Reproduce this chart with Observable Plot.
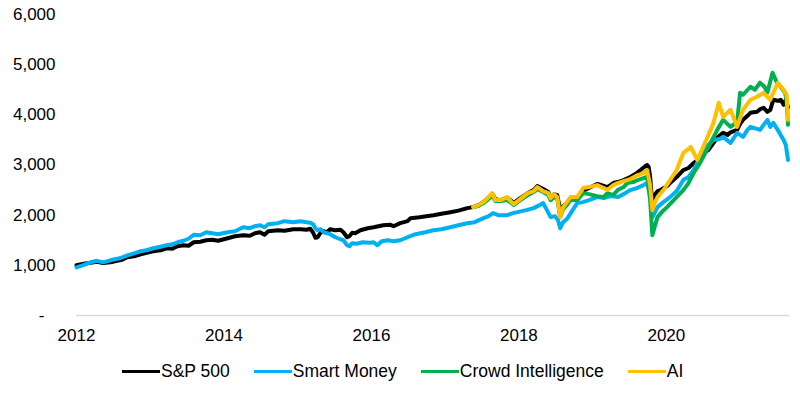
<!DOCTYPE html>
<html><head><meta charset="utf-8">
<script src="https://cdn.jsdelivr.net/npm/d3@7"></script>
<script src="https://cdn.jsdelivr.net/npm/@observablehq/plot@0.6"></script>
<style>
body{margin:0;background:#fff;font-family:"Liberation Sans",Arial,sans-serif;}
#legend{display:flex;gap:24px;padding-left:122px;margin-top:16px;font-size:17.5px;color:#000;align-items:center;height:20px;line-height:20px}
.item{display:flex;align-items:center}
.sw{width:38px;height:3px;margin-right:1px}
</style></head><body><div id="chart"></div><div id="legend"></div>
<script>
const seriesNames = ["S&P 500", "Smart Money", "Crowd Intelligence", "AI"];
const seriesColors = ["#000000", "#00B0F0", "#00B050", "#FFC000"];
const xTicks = [2012, 2014, 2016, 2018, 2020];
const yTicks = [1000, 2000, 3000, 4000, 5000, 6000];

const spYears = [2012.00,2012.10,2012.19,2012.28,2012.36,2012.46,2012.55,2012.62,2012.69,2012.78,2012.87,2012.95,2013.04,2013.14,2013.22,2013.30,2013.37,2013.45,2013.52,2013.59,2013.68,2013.76,2013.84,2013.92,2014.05,2014.15,2014.26,2014.35,2014.42,2014.49,2014.55,2014.60,2014.73,2014.82,2014.94,2015.04,2015.12,2015.17,2015.21,2015.24,2015.27,2015.31,2015.35,2015.40,2015.44,2015.51,2015.58,2015.62,2015.67,2015.70,2015.74,2015.78,2015.85,2015.95,2016.03,2016.16,2016.25,2016.30,2016.39,2016.49,2016.53,2016.65,2016.84,2016.95,2017.07,2017.18,2017.30,2017.38,2017.45,2017.52,2017.60,2017.64,2017.68,2017.75,2017.84,2017.90,2017.93,2018.00,2018.12,2018.20,2018.25,2018.33,2018.40,2018.43,2018.48,2018.52,2018.56,2018.60,2018.66,2018.70,2018.79,2018.87,2018.95,2019.06,2019.12,2019.20,2019.28,2019.34,2019.42,2019.51,2019.58,2019.65,2019.70,2019.74,2019.76,2019.78,2019.80,2019.82,2019.85,2019.88,2019.92,2020.01,2020.05,2020.14,2020.23,2020.30,2020.37,2020.44,2020.50,2020.57,2020.64,2020.70,2020.77,2020.83,2020.87,2020.96,2021.00,2021.04,2021.10,2021.14,2021.23,2021.28,2021.32,2021.37,2021.41,2021.45,2021.51,2021.55,2021.59,2021.62,2021.65];
const spValues = [1000,1030,1050,1070,1045,1060,1090,1110,1160,1180,1220,1250,1280,1300,1340,1330,1380,1400,1390,1460,1470,1500,1510,1490,1540,1580,1600,1590,1640,1660,1610,1680,1700,1690,1720,1720,1710,1730,1650,1550,1560,1650,1680,1660,1720,1700,1710,1660,1560,1580,1650,1640,1700,1740,1760,1800,1810,1780,1840,1880,1940,1960,2000,2030,2060,2090,2140,2160,2200,2260,2360,2420,2320,2300,2350,2280,2240,2320,2440,2500,2580,2520,2460,2340,2420,2400,2100,2180,2260,2330,2340,2480,2540,2620,2600,2560,2640,2660,2700,2760,2820,2900,2960,3000,2960,2760,2400,2300,2420,2480,2500,2580,2640,2760,2900,2940,3040,3120,3240,3300,3440,3560,3640,3600,3650,3700,3820,3900,3980,4040,4060,4120,4140,4060,4100,4300,4280,4300,4200,4300,4150];

const smYears = [2012.00,2012.10,2012.19,2012.28,2012.36,2012.46,2012.55,2012.62,2012.69,2012.78,2012.87,2012.95,2013.04,2013.14,2013.22,2013.30,2013.37,2013.45,2013.52,2013.59,2013.68,2013.76,2013.84,2013.92,2014.05,2014.15,2014.26,2014.35,2014.42,2014.49,2014.55,2014.60,2014.73,2014.82,2014.94,2015.04,2015.12,2015.17,2015.21,2015.24,2015.27,2015.31,2015.35,2015.40,2015.44,2015.51,2015.58,2015.62,2015.67,2015.70,2015.74,2015.80,2015.88,2015.98,2016.03,2016.08,2016.14,2016.22,2016.30,2016.39,2016.49,2016.60,2016.73,2016.84,2016.95,2017.07,2017.18,2017.30,2017.40,2017.52,2017.59,2017.65,2017.72,2017.84,2017.92,2017.98,2018.10,2018.20,2018.28,2018.33,2018.38,2018.43,2018.49,2018.53,2018.56,2018.60,2018.66,2018.72,2018.79,2018.87,2018.95,2019.06,2019.15,2019.25,2019.34,2019.42,2019.51,2019.60,2019.69,2019.74,2019.78,2019.81,2019.84,2019.88,2019.96,2020.05,2020.14,2020.23,2020.30,2020.37,2020.44,2020.50,2020.57,2020.64,2020.72,2020.77,2020.87,2020.96,2021.04,2021.10,2021.14,2021.23,2021.27,2021.32,2021.37,2021.41,2021.45,2021.51,2021.55,2021.59,2021.62,2021.65];
const smValues = [960,1010,1060,1090,1060,1100,1130,1160,1200,1240,1280,1300,1340,1370,1400,1420,1460,1490,1530,1610,1600,1660,1640,1620,1660,1680,1760,1740,1780,1800,1760,1820,1840,1880,1860,1880,1860,1850,1820,1740,1700,1720,1660,1640,1620,1560,1520,1500,1400,1380,1440,1430,1460,1450,1460,1400,1480,1500,1480,1500,1560,1620,1660,1700,1720,1760,1800,1840,1860,1940,1980,2040,2000,2000,2040,2060,2100,2140,2200,2240,2100,1960,1980,1900,1740,1860,1940,2080,2240,2260,2300,2360,2340,2380,2360,2420,2500,2540,2600,2640,2400,1960,2040,2160,2260,2360,2480,2700,2760,2900,3100,3300,3400,3500,3520,3560,3440,3640,3560,3700,3760,3720,3700,3800,3900,3760,3840,3700,3600,3500,3400,3100];

const ciYears = [2017.38,2017.45,2017.52,2017.60,2017.64,2017.68,2017.75,2017.84,2017.90,2017.93,2018.00,2018.12,2018.20,2018.25,2018.33,2018.40,2018.43,2018.48,2018.52,2018.56,2018.60,2018.66,2018.70,2018.79,2018.87,2018.95,2019.06,2019.15,2019.20,2019.28,2019.34,2019.42,2019.47,2019.55,2019.61,2019.69,2019.74,2019.78,2019.81,2019.84,2019.88,2019.95,2020.01,2020.10,2020.23,2020.30,2020.37,2020.44,2020.50,2020.60,2020.69,2020.77,2020.87,2020.96,2021.00,2021.04,2021.14,2021.20,2021.27,2021.33,2021.37,2021.44,2021.50,2021.55,2021.61,2021.63,2021.65];
const ciValues = [2160,2180,2240,2340,2400,2280,2280,2300,2240,2200,2280,2400,2460,2520,2460,2400,2300,2360,2340,1960,2120,2220,2300,2300,2440,2420,2380,2360,2440,2400,2500,2560,2640,2660,2700,2740,2760,2300,1600,1760,1960,2080,2160,2300,2500,2640,2840,3000,3160,3440,3700,3900,3760,3860,4440,4400,4560,4500,4640,4560,4440,4840,4640,4560,4440,4300,3800];

const aiYears = [2017.38,2017.45,2017.52,2017.60,2017.64,2017.68,2017.75,2017.84,2017.90,2017.93,2018.00,2018.12,2018.20,2018.25,2018.33,2018.40,2018.43,2018.48,2018.52,2018.56,2018.60,2018.66,2018.70,2018.79,2018.87,2018.95,2019.06,2019.15,2019.20,2019.28,2019.34,2019.42,2019.51,2019.61,2019.69,2019.74,2019.78,2019.81,2019.84,2019.88,2019.96,2020.05,2020.14,2020.23,2020.33,2020.42,2020.50,2020.60,2020.64,2020.71,2020.77,2020.87,2020.96,2021.04,2021.14,2021.23,2021.32,2021.41,2021.51,2021.59,2021.63,2021.65];
const aiValues = [2160,2200,2260,2380,2440,2300,2300,2360,2260,2220,2300,2440,2480,2560,2480,2440,2340,2420,2360,1960,2160,2280,2360,2360,2540,2560,2600,2540,2500,2600,2640,2680,2720,2800,2840,2900,2600,2100,2240,2360,2500,2700,2900,3240,3360,3100,3360,3700,3840,4240,3960,4100,3760,4100,4300,4360,4440,4300,4640,4500,4400,3900];

const toRows = (ys, vs) => ys.map((y, i) => ({year: y, value: vs[i]}));
const seriesData = [toRows(spYears, spValues), toRows(smYears, smValues), toRows(ciYears, ciValues), toRows(aiYears, aiValues)];

const plot = Plot.plot({
  width: 800, height: 345,
  marginLeft: 76, marginRight: 11, marginTop: 14, marginBottom: 30,
  style: {fontFamily: "'Liberation Sans', Arial, sans-serif", fontSize: "17px", color: "#000", background: "#fff", overflow: "visible"},
  x: {domain: [2012, 2021.67], label: null},
  y: {domain: [0, 6000], label: null},
  marks: [
    Plot.ruleY([0], {stroke: "#d9d9d9", strokeWidth: 1.5}),
    Plot.axisX(xTicks, {tickSize: 0, tickPadding: 13, tickFormat: d => String(d), label: null}),
    Plot.axisY(yTicks, {tickSize: 0, tickPadding: 21, tickFormat: d3.format(","), label: null}),
    Plot.axisY([0], {tickSize: 0, tickPadding: 32, tickFormat: () => "-", label: null}),
    ...seriesData.map((d, i) => Plot.line(d, {x: "year", y: "value", stroke: seriesColors[i], strokeWidth: 4, strokeLinejoin: "round"}))
  ]
});
document.getElementById("chart").appendChild(plot);

const legend = document.getElementById("legend");
seriesNames.forEach((n, i) => {
  const it = document.createElement("div"); it.className = "item";
  const sw = document.createElement("div"); sw.className = "sw"; sw.style.background = seriesColors[i];
  const tx = document.createElement("span"); tx.textContent = n;
  it.appendChild(sw); it.appendChild(tx); legend.appendChild(it);
});
</script></body></html>
